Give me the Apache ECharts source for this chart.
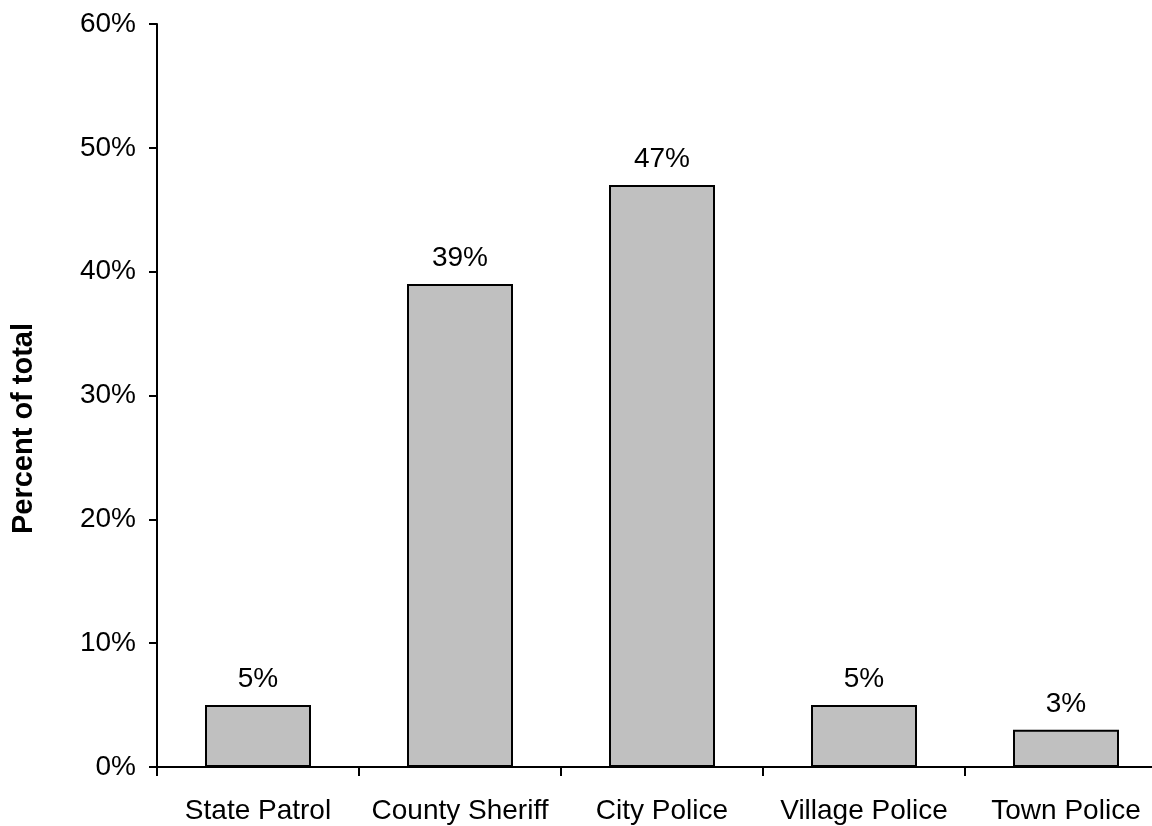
<!DOCTYPE html>
<html>
<head>
<meta charset="utf-8">
<script src="https://cdn.jsdelivr.net/npm/echarts@6/dist/echarts.min.js"></script>
<style>html,body{margin:0;padding:0;background:#fff}#c{width:1152px;height:826px}</style>
</head>
<body>
<div id="c"></div>
<script>
const categories = ['State Patrol', 'County Sheriff', 'City Police', 'Village Police', 'Town Police'];
const values = [5, 39, 47, 5, 3];
const yTicks = [0, 10, 20, 30, 40, 50, 60];

const chart = echarts.init(document.getElementById('c'), null, {renderer: 'canvas'});
const font = 'Liberation Sans, Arial, sans-serif';
chart.setOption({
  animation: false,
  backgroundColor: '#ffffff',
  grid: {left: 157, top: 24, width: 1010, height: 743, containLabel: false, outerBoundsMode: 'none'},
  xAxis: {
    type: 'category',
    data: categories,
    axisLine: {show: true, lineStyle: {color: '#000', width: 2}},
    axisTick: {show: true, alignWithLabel: false, interval: 0, length: 9, lineStyle: {color: '#000', width: 2}},
    axisLabel: {color: '#000', fontFamily: font, fontSize: 28, margin: 30, interval: 0, hideOverlap: false},
    splitLine: {show: false}
  },
  yAxis: {
    type: 'value',
    min: yTicks[0], max: yTicks[yTicks.length - 1], interval: 10,
    name: 'Percent of total',
    nameLocation: 'middle',
    nameMoveOverlap: false,
    nameGap: 119,
    nameRotate: 90,
    nameTextStyle: {color: '#000', fontFamily: font, fontSize: 29, fontWeight: 'bold', padding: [0, 66, 0, 0]},
    axisLine: {show: true, lineStyle: {color: '#000', width: 2}},
    axisTick: {show: true, length: 8, lineStyle: {color: '#000', width: 2}},
    axisLabel: {color: '#000', fontFamily: font, fontSize: 28, margin: 21, formatter: '{value}%'},
    splitLine: {show: false}
  },
  series: [{
    type: 'bar',
    data: values,
    barWidth: 106,
    itemStyle: {color: '#c0c0c0', borderColor: '#000', borderWidth: 2},
    label: {show: true, position: 'top', distance: 12, color: '#000', fontFamily: font, fontSize: 28, formatter: '{c}%'}
  }]
});
</script>
</body>
</html>
